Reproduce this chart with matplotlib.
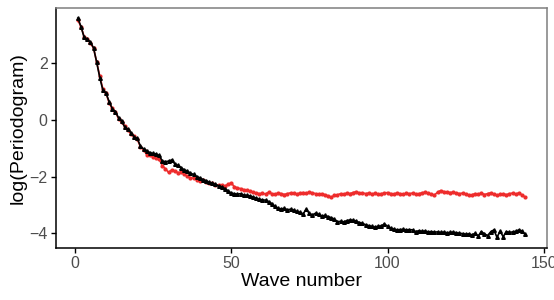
import matplotlib
matplotlib.use("Agg")
import matplotlib.pyplot as plt
import numpy as np

wave = list(range(1, 145))

black_vals = [
    3.60, 3.30, 2.92, 2.85, 2.75, 2.55, 2.05, 1.50, 1.05, 0.95,
    0.65, 0.40, 0.30, 0.08, -0.05, -0.25, -0.33, -0.45, -0.60, -0.65,
    -0.92, -1.02, -1.08, -1.15, -1.18, -1.20, -1.25, -1.45, -1.47, -1.45,
    -1.41, -1.55, -1.60, -1.68, -1.76, -1.80, -1.88, -1.92, -2.00, -2.04,
    -2.10, -2.14, -2.20, -2.23, -2.27, -2.32, -2.36, -2.42, -2.50, -2.58,
    -2.60, -2.62, -2.60, -2.65, -2.66, -2.68, -2.72, -2.76, -2.80, -2.82,
    -2.83, -2.88, -2.95, -3.05, -3.12, -3.14, -3.12, -3.17, -3.15, -3.18,
    -3.23, -3.26, -3.32, -3.15, -3.30, -3.35, -3.29, -3.33, -3.39, -3.37,
    -3.41, -3.45, -3.50, -3.59, -3.58, -3.60, -3.55, -3.53, -3.54, -3.57,
    -3.62, -3.65, -3.70, -3.73, -3.76, -3.78, -3.75, -3.74, -3.67, -3.75,
    -3.82, -3.85, -3.88, -3.87, -3.86, -3.88, -3.87, -3.88, -3.94, -3.91,
    -3.93, -3.92, -3.95, -3.94, -3.96, -3.95, -3.97, -3.96, -3.98, -3.97,
    -3.96, -3.98, -4.00, -4.01, -4.03, -4.02, -4.06, -4.00, -4.10, -3.94,
    -4.02, -4.08, -3.95, -3.88, -4.14, -3.93, -4.12, -3.94, -3.97, -3.95,
    -3.93, -3.88, -3.92, -4.04,
]

red_vals = [
    3.53, 3.30, 2.95, 2.85, 2.72, 2.55, 2.05, 1.55, 1.10, 0.95,
    0.60, 0.42, 0.28, 0.05, -0.08, -0.20, -0.35, -0.50, -0.58, -0.68,
    -0.95, -1.05, -1.22, -1.25, -1.30, -1.33, -1.38, -1.62, -1.72, -1.85,
    -1.76, -1.80, -1.86, -1.84, -1.92, -1.98, -2.04, -2.05, -2.10, -2.14,
    -2.13, -2.18, -2.22, -2.24, -2.28, -2.30, -2.31, -2.33, -2.27, -2.22,
    -2.35, -2.40, -2.42, -2.46, -2.48, -2.52, -2.55, -2.58, -2.60, -2.59,
    -2.61, -2.55, -2.60, -2.62, -2.58, -2.60, -2.63, -2.60, -2.57, -2.59,
    -2.61, -2.58, -2.56, -2.58, -2.55, -2.57, -2.60, -2.62, -2.60, -2.64,
    -2.68, -2.73, -2.66, -2.64, -2.60, -2.62, -2.58, -2.60, -2.56, -2.53,
    -2.58, -2.57, -2.60, -2.58, -2.61, -2.59, -2.62, -2.60, -2.58, -2.56,
    -2.60, -2.61, -2.58, -2.60, -2.62, -2.59, -2.60, -2.58, -2.61, -2.60,
    -2.57, -2.55, -2.58, -2.62, -2.65, -2.55, -2.49, -2.53, -2.54, -2.56,
    -2.55, -2.58, -2.60, -2.58, -2.62, -2.65, -2.64, -2.60, -2.62, -2.58,
    -2.63, -2.60, -2.57, -2.62, -2.66, -2.62, -2.60, -2.64, -2.60, -2.58,
    -2.62, -2.57, -2.65, -2.72,
]

x_ticks = [0, 50, 100, 150]
y_ticks = [-4, -2, 0, 2]

plt.rcParams['font.family'] = ['Liberation Sans', 'DejaVu Sans']

fig = plt.figure(figsize=(5.54, 3.0), dpi=100)
ax = fig.add_axes([56/554, 52/300, (547-56)/554, (248-8)/300])

red = '#EE2C2C'
ax.plot(wave, red_vals, color=red, lw=1.2, marker='o', ms=2.0, mec=red, mfc=red, zorder=2)
ax.plot(wave, black_vals, color='black', lw=1.2, marker='^', ms=2.6, mec='black', mfc='black', zorder=3)

ax.set_xlim(-6.0, 151.0)
ax.set_ylim(-4.52, 3.96)
ax.set_xticks(x_ticks)
ax.set_yticks(y_ticks)
ax.set_yticklabels(['\u22124', '\u22122', '0', '2'])

for s in ['top', 'right']:
    ax.spines[s].set_color('#7F7F7F')
    ax.spines[s].set_linewidth(1.1)
for s in ['left', 'bottom']:
    ax.spines[s].set_color('black')
    ax.spines[s].set_linewidth(1.1)

ax.tick_params(axis='both', colors='black', length=3.5, width=1.0, labelsize=11.5,
               labelcolor='#4D4D4D', pad=2.5)
ax.set_xlabel('Wave number', fontsize=14, color='black', labelpad=1)
ax.set_ylabel('log(Periodogram)', fontsize=14, color='black', labelpad=2)

fig.savefig('out.png', dpi=100)
